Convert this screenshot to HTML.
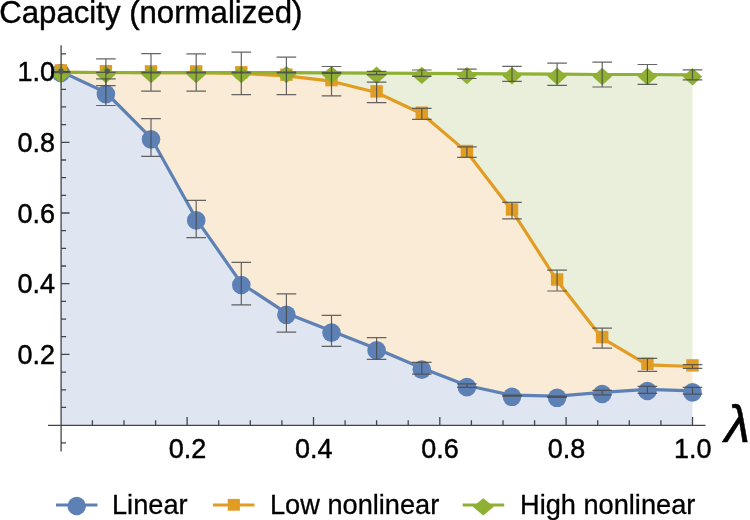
<!DOCTYPE html>
<html><head><meta charset="utf-8"><title>Capacity</title>
<style>
html,body{margin:0;padding:0;background:#fff;}
body{width:750px;height:520px;overflow:hidden;font-family:"Liberation Sans",sans-serif;}
svg{display:block}
text{font-family:"Liberation Sans",sans-serif;fill:#000}
</style></head><body>
<svg width="750" height="520" viewBox="0 0 750 520">
<rect width="750" height="520" fill="#fff"/>

<polygon fill="#E9EFDA" points="60.8,72.4 105.9,72.5 151.0,72.6 196.2,72.6 241.3,72.6 286.4,72.6 331.5,72.8 376.6,73.2 421.8,73.4 466.9,73.6 512.0,73.8 557.1,74.2 602.2,74.5 647.4,74.5 692.5,74.8 692.5,366.5 647.4,364.9 602.2,338.2 557.1,280.6 512.0,210.6 466.9,152.1 421.8,113.8 376.6,92.5 331.5,81.2 286.4,75.8 241.3,73.4 196.2,72.7 151.0,72.6 105.9,72.5 60.8,72.4"/>
<polygon fill="#FAEBD6" points="60.8,72.4 105.9,72.5 151.0,72.6 196.2,72.7 241.3,73.4 286.4,75.8 331.5,81.2 376.6,92.5 421.8,113.8 466.9,152.1 512.0,210.6 557.1,280.6 602.2,338.2 647.4,364.9 692.5,366.5 692.5,390.8 647.4,389.4 602.2,392.4 557.1,396.2 512.0,395.2 466.9,385.5 421.8,368.0 376.6,348.8 331.5,331.0 286.4,313.2 241.3,283.4 196.2,218.8 151.0,137.8 105.9,92.5 60.8,71.4"/>
<polygon fill="#DFE6F1" points="60.8,71.4 105.9,92.5 151.0,137.8 196.2,218.8 241.3,283.4 286.4,313.2 331.5,331.0 376.6,348.8 421.8,368.0 466.9,385.5 512.0,395.2 557.1,396.2 602.2,392.4 647.4,389.4 692.5,390.8 692.5,425.1 60.8,425.1"/>
<polyline fill="none" stroke="#5E81B5" stroke-width="3.2" stroke-linejoin="round" points="60.8,71.4 105.9,92.5 151.0,137.8 196.2,218.8 241.3,283.4 286.4,313.2 331.5,331.0 376.6,348.8 421.8,368.0 466.9,385.5 512.0,395.2 557.1,396.2 602.2,392.4 647.4,389.4 692.5,390.8"/>
<circle cx="60.8" cy="73.0" r="9.3" fill="#5E81B5"/>
<circle cx="105.9" cy="94.1" r="9.3" fill="#5E81B5"/>
<circle cx="151.0" cy="139.4" r="9.3" fill="#5E81B5"/>
<circle cx="196.2" cy="220.4" r="9.3" fill="#5E81B5"/>
<circle cx="241.3" cy="285.0" r="9.3" fill="#5E81B5"/>
<circle cx="286.4" cy="314.8" r="9.3" fill="#5E81B5"/>
<circle cx="331.5" cy="332.6" r="9.3" fill="#5E81B5"/>
<circle cx="376.6" cy="350.4" r="9.3" fill="#5E81B5"/>
<circle cx="421.8" cy="369.6" r="9.3" fill="#5E81B5"/>
<circle cx="466.9" cy="387.1" r="9.3" fill="#5E81B5"/>
<circle cx="512.0" cy="396.8" r="9.3" fill="#5E81B5"/>
<circle cx="557.1" cy="397.8" r="9.3" fill="#5E81B5"/>
<circle cx="602.2" cy="394.0" r="9.3" fill="#5E81B5"/>
<circle cx="647.4" cy="391.0" r="9.3" fill="#5E81B5"/>
<circle cx="692.5" cy="392.4" r="9.3" fill="#5E81B5"/>
<polyline fill="none" stroke="#E19C24" stroke-width="3.2" stroke-linejoin="round" points="60.8,72.4 105.9,72.5 151.0,72.6 196.2,72.7 241.3,73.4 286.4,75.8 331.5,81.2 376.6,92.5 421.8,113.8 466.9,152.1 512.0,210.6 557.1,280.6 602.2,338.2 647.4,364.9 692.5,366.5"/>
<rect x="54.6" y="64.3" width="12.4" height="12.4" fill="#E19C24"/>
<rect x="99.7" y="65.0" width="12.4" height="12.4" fill="#E19C24"/>
<rect x="144.8" y="65.2" width="12.4" height="12.4" fill="#E19C24"/>
<rect x="190.0" y="65.2" width="12.4" height="12.4" fill="#E19C24"/>
<rect x="235.1" y="66.1" width="12.4" height="12.4" fill="#E19C24"/>
<rect x="280.2" y="68.5" width="12.4" height="12.4" fill="#E19C24"/>
<rect x="325.3" y="73.9" width="12.4" height="12.4" fill="#E19C24"/>
<rect x="370.4" y="85.2" width="12.4" height="12.4" fill="#E19C24"/>
<rect x="415.6" y="106.5" width="12.4" height="12.4" fill="#E19C24"/>
<rect x="460.7" y="144.8" width="12.4" height="12.4" fill="#E19C24"/>
<rect x="505.8" y="203.3" width="12.4" height="12.4" fill="#E19C24"/>
<rect x="550.9" y="273.3" width="12.4" height="12.4" fill="#E19C24"/>
<rect x="596.0" y="330.9" width="12.4" height="12.4" fill="#E19C24"/>
<rect x="641.2" y="357.6" width="12.4" height="12.4" fill="#E19C24"/>
<rect x="686.3" y="359.2" width="12.4" height="12.4" fill="#E19C24"/>
<polyline fill="none" stroke="#8FB032" stroke-width="3.2" stroke-linejoin="round" points="60.8,72.4 105.9,72.5 151.0,72.6 196.2,72.6 241.3,72.6 286.4,72.6 331.5,72.8 376.6,73.2 421.8,73.4 466.9,73.6 512.0,73.8 557.1,74.2 602.2,74.5 647.4,74.5 692.5,74.8"/>
<path d="M60.8 65.7L70.5 74.4L60.8 83.1L51.1 74.4Z" fill="#8FB032"/>
<path d="M105.9 65.8L115.6 74.5L105.9 83.2L96.2 74.5Z" fill="#8FB032"/>
<path d="M151.0 65.9L160.7 74.6L151.0 83.3L141.3 74.6Z" fill="#8FB032"/>
<path d="M196.2 65.9L205.9 74.6L196.2 83.3L186.5 74.6Z" fill="#8FB032"/>
<path d="M241.3 65.9L251.0 74.6L241.3 83.3L231.6 74.6Z" fill="#8FB032"/>
<path d="M286.4 65.9L296.1 74.6L286.4 83.3L276.7 74.6Z" fill="#8FB032"/>
<path d="M331.5 66.1L341.2 74.8L331.5 83.5L321.8 74.8Z" fill="#8FB032"/>
<path d="M376.6 66.5L386.3 75.2L376.6 83.9L366.9 75.2Z" fill="#8FB032"/>
<path d="M421.8 66.7L431.5 75.4L421.8 84.1L412.1 75.4Z" fill="#8FB032"/>
<path d="M466.9 66.9L476.6 75.6L466.9 84.3L457.2 75.6Z" fill="#8FB032"/>
<path d="M512.0 67.1L521.7 75.8L512.0 84.5L502.3 75.8Z" fill="#8FB032"/>
<path d="M557.1 67.5L566.8 76.2L557.1 84.9L547.4 76.2Z" fill="#8FB032"/>
<path d="M602.2 67.8L611.9 76.5L602.2 85.2L592.5 76.5Z" fill="#8FB032"/>
<path d="M647.4 67.8L657.1 76.5L647.4 85.2L637.7 76.5Z" fill="#8FB032"/>
<path d="M692.5 68.1L702.2 76.8L692.5 85.5L682.8 76.8Z" fill="#8FB032"/>
<path d="M105.9 78.9V105.5M96.1 78.9H115.7M96.1 105.5H115.7" stroke="#4a4a4a" stroke-opacity="0.85" stroke-width="1.2" fill="none"/>
<path d="M151.0 118.7V156.4M141.2 118.7H160.8M141.2 156.4H160.8" stroke="#4a4a4a" stroke-opacity="0.85" stroke-width="1.2" fill="none"/>
<path d="M196.2 200.4V237.6M186.4 200.4H206.0M186.4 237.6H206.0" stroke="#4a4a4a" stroke-opacity="0.85" stroke-width="1.2" fill="none"/>
<path d="M241.3 262.4V304.8M231.5 262.4H251.1M231.5 304.8H251.1" stroke="#4a4a4a" stroke-opacity="0.85" stroke-width="1.2" fill="none"/>
<path d="M286.4 293.8V332.2M276.6 293.8H296.2M276.6 332.2H296.2" stroke="#4a4a4a" stroke-opacity="0.85" stroke-width="1.2" fill="none"/>
<path d="M331.5 315.4V346.4M321.7 315.4H341.3M321.7 346.4H341.3" stroke="#4a4a4a" stroke-opacity="0.85" stroke-width="1.2" fill="none"/>
<path d="M376.6 337.6V359.4M366.8 337.6H386.4M366.8 359.4H386.4" stroke="#4a4a4a" stroke-opacity="0.85" stroke-width="1.2" fill="none"/>
<path d="M421.8 362.4V374.2M412.0 362.4H431.6M412.0 374.2H431.6" stroke="#4a4a4a" stroke-opacity="0.85" stroke-width="1.2" fill="none"/>
<path d="M466.9 383.8V387.4M457.1 383.8H476.7M457.1 387.4H476.7" stroke="#4a4a4a" stroke-opacity="0.85" stroke-width="1.2" fill="none"/>
<path d="M512.0 395.2V396.2M502.2 395.2H521.8M502.2 396.2H521.8" stroke="#4a4a4a" stroke-opacity="0.85" stroke-width="1.2" fill="none"/>
<path d="M557.1 396.2V397.4M547.3 396.2H566.9M547.3 397.4H566.9" stroke="#4a4a4a" stroke-opacity="0.85" stroke-width="1.2" fill="none"/>
<path d="M602.2 390.4V394.8M592.4 390.4H612.0M592.4 394.8H612.0" stroke="#4a4a4a" stroke-opacity="0.85" stroke-width="1.2" fill="none"/>
<path d="M647.4 386.4V393.4M637.6 386.4H657.2M637.6 393.4H657.2" stroke="#4a4a4a" stroke-opacity="0.85" stroke-width="1.2" fill="none"/>
<path d="M692.5 387.4V394.2M682.7 387.4H702.3M682.7 394.2H702.3" stroke="#4a4a4a" stroke-opacity="0.85" stroke-width="1.2" fill="none"/>
<path d="M105.9 58.9V85.6M96.1 58.9H115.7M96.1 85.6H115.7" stroke="#4a4a4a" stroke-opacity="0.85" stroke-width="1.2" fill="none"/>
<path d="M151.0 53.7V91.2M141.2 53.7H160.8M141.2 91.2H160.8" stroke="#4a4a4a" stroke-opacity="0.85" stroke-width="1.2" fill="none"/>
<path d="M196.2 53.9V91.2M186.4 53.9H206.0M186.4 91.2H206.0" stroke="#4a4a4a" stroke-opacity="0.85" stroke-width="1.2" fill="none"/>
<path d="M241.3 52.2V94.6M231.5 52.2H251.1M231.5 94.6H251.1" stroke="#4a4a4a" stroke-opacity="0.85" stroke-width="1.2" fill="none"/>
<path d="M286.4 57.1V94.6M276.6 57.1H296.2M276.6 94.6H296.2" stroke="#4a4a4a" stroke-opacity="0.85" stroke-width="1.2" fill="none"/>
<path d="M331.5 66.5V95.8M321.7 66.5H341.3M321.7 95.8H341.3" stroke="#4a4a4a" stroke-opacity="0.85" stroke-width="1.2" fill="none"/>
<path d="M376.6 82.2V102.7M366.8 82.2H386.4M366.8 102.7H386.4" stroke="#4a4a4a" stroke-opacity="0.85" stroke-width="1.2" fill="none"/>
<path d="M421.8 108.3V119.4M412.0 108.3H431.6M412.0 119.4H431.6" stroke="#4a4a4a" stroke-opacity="0.85" stroke-width="1.2" fill="none"/>
<path d="M466.9 146.8V157.4M457.1 146.8H476.7M457.1 157.4H476.7" stroke="#4a4a4a" stroke-opacity="0.85" stroke-width="1.2" fill="none"/>
<path d="M512.0 202.4V218.8M502.2 202.4H521.8M502.2 218.8H521.8" stroke="#4a4a4a" stroke-opacity="0.85" stroke-width="1.2" fill="none"/>
<path d="M557.1 270.2V291.0M547.3 270.2H566.9M547.3 291.0H566.9" stroke="#4a4a4a" stroke-opacity="0.85" stroke-width="1.2" fill="none"/>
<path d="M602.2 328.2V348.2M592.4 328.2H612.0M592.4 348.2H612.0" stroke="#4a4a4a" stroke-opacity="0.85" stroke-width="1.2" fill="none"/>
<path d="M647.4 358.4V371.4M637.6 358.4H657.2M637.6 371.4H657.2" stroke="#4a4a4a" stroke-opacity="0.85" stroke-width="1.2" fill="none"/>
<path d="M692.5 364.6V368.4M682.7 364.6H702.3M682.7 368.4H702.3" stroke="#4a4a4a" stroke-opacity="0.85" stroke-width="1.2" fill="none"/>
<path d="M60.8 71.7V72.7M51.0 71.7H70.6M51.0 72.7H70.6" stroke="#4a4a4a" stroke-opacity="0.85" stroke-width="1.2" fill="none"/>
<path d="M105.9 72.4V72.4M96.1 72.4H115.7M96.1 72.4H115.7" stroke="#4a4a4a" stroke-opacity="0.85" stroke-width="1.2" fill="none"/>
<path d="M151.0 72.2V73.0M141.2 72.2H160.8M141.2 73.0H160.8" stroke="#4a4a4a" stroke-opacity="0.85" stroke-width="1.2" fill="none"/>
<path d="M196.2 72.2V73.0M186.4 72.2H206.0M186.4 73.0H206.0" stroke="#4a4a4a" stroke-opacity="0.85" stroke-width="1.2" fill="none"/>
<path d="M241.3 72.2V73.0M231.5 72.2H251.1M231.5 73.0H251.1" stroke="#4a4a4a" stroke-opacity="0.85" stroke-width="1.2" fill="none"/>
<path d="M286.4 72.2V73.0M276.6 72.2H296.2M276.6 73.0H296.2" stroke="#4a4a4a" stroke-opacity="0.85" stroke-width="1.2" fill="none"/>
<path d="M331.5 72.3V73.3M321.7 72.3H341.3M321.7 73.3H341.3" stroke="#4a4a4a" stroke-opacity="0.85" stroke-width="1.2" fill="none"/>
<path d="M376.6 71.4V74.6M366.8 71.4H386.4M366.8 74.6H386.4" stroke="#4a4a4a" stroke-opacity="0.85" stroke-width="1.2" fill="none"/>
<path d="M421.8 70.0V76.4M412.0 70.0H431.6M412.0 76.4H431.6" stroke="#4a4a4a" stroke-opacity="0.85" stroke-width="1.2" fill="none"/>
<path d="M466.9 69.1V78.5M457.1 69.1H476.7M457.1 78.5H476.7" stroke="#4a4a4a" stroke-opacity="0.85" stroke-width="1.2" fill="none"/>
<path d="M512.0 66.3V81.4M502.2 66.3H521.8M502.2 81.4H521.8" stroke="#4a4a4a" stroke-opacity="0.85" stroke-width="1.2" fill="none"/>
<path d="M557.1 63.1V85.4M547.3 63.1H566.9M547.3 85.4H566.9" stroke="#4a4a4a" stroke-opacity="0.85" stroke-width="1.2" fill="none"/>
<path d="M602.2 62.2V87.0M592.4 62.2H612.0M592.4 87.0H612.0" stroke="#4a4a4a" stroke-opacity="0.85" stroke-width="1.2" fill="none"/>
<path d="M647.4 64.5V84.4M637.6 64.5H657.2M637.6 84.4H657.2" stroke="#4a4a4a" stroke-opacity="0.85" stroke-width="1.2" fill="none"/>
<path d="M692.5 69.9V79.8M682.7 69.9H702.3M682.7 79.8H702.3" stroke="#4a4a4a" stroke-opacity="0.85" stroke-width="1.2" fill="none"/>
<path d="M48.0 425.3H705.5 M61.099999999999994 45.3V451.5M61.099999999999994 442.8h5M92.4 425.3v-5M124.0 425.3v-5M155.6 425.3v-5M187.1 425.3v-8.4M218.7 425.3v-5M250.3 425.3v-5M281.9 425.3v-5M313.5 425.3v-8.4M345.1 425.3v-5M376.6 425.3v-5M408.2 425.3v-5M439.8 425.3v-8.4M471.4 425.3v-5M503.0 425.3v-5M534.6 425.3v-5M566.1 425.3v-8.4M597.7 425.3v-5M629.3 425.3v-5M660.9 425.3v-5M692.5 425.3v-8.4M61.099999999999994 407.4h5M61.099999999999994 389.8h5M61.099999999999994 372.1h5M61.099999999999994 354.4h8.4M61.099999999999994 336.7h5M61.099999999999994 319.1h5M61.099999999999994 301.4h5M61.099999999999994 283.7h8.4M61.099999999999994 266.0h5M61.099999999999994 248.4h5M61.099999999999994 230.7h5M61.099999999999994 213.0h8.4M61.099999999999994 195.3h5M61.099999999999994 177.7h5M61.099999999999994 160.0h5M61.099999999999994 142.3h8.4M61.099999999999994 124.6h5M61.099999999999994 106.9h5M61.099999999999994 89.3h5M61.099999999999994 71.6h8.4M61.099999999999994 53.9h5" stroke="#454545" stroke-width="1.3" fill="none"/>
<circle cx="61.0" cy="71.3" r="2.7" fill="#555555"/>
<circle cx="107.2" cy="71.3" r="2.7" fill="#555555"/>
<text transform="translate(187.4,457.6) scale(1,1.025)" font-size="27.0" text-anchor="middle" stroke="#000" stroke-width="0.45">0.2</text>
<text transform="translate(55.0,364.1) scale(1,1.025)" font-size="27.0" text-anchor="end" stroke="#000" stroke-width="0.45">0.2</text>
<text transform="translate(313.8,457.6) scale(1,1.025)" font-size="27.0" text-anchor="middle" stroke="#000" stroke-width="0.45">0.4</text>
<text transform="translate(55.0,293.4) scale(1,1.025)" font-size="27.0" text-anchor="end" stroke="#000" stroke-width="0.45">0.4</text>
<text transform="translate(440.1,457.6) scale(1,1.025)" font-size="27.0" text-anchor="middle" stroke="#000" stroke-width="0.45">0.6</text>
<text transform="translate(55.0,222.7) scale(1,1.025)" font-size="27.0" text-anchor="end" stroke="#000" stroke-width="0.45">0.6</text>
<text transform="translate(566.4,457.6) scale(1,1.025)" font-size="27.0" text-anchor="middle" stroke="#000" stroke-width="0.45">0.8</text>
<text transform="translate(55.0,152.0) scale(1,1.025)" font-size="27.0" text-anchor="end" stroke="#000" stroke-width="0.45">0.8</text>
<text transform="translate(692.8,457.6) scale(1,1.025)" font-size="27.0" text-anchor="middle" stroke="#000" stroke-width="0.45">1.0</text>
<text transform="translate(55.0,81.3) scale(1,1.025)" font-size="27.0" text-anchor="end" stroke="#000" stroke-width="0.45">1.0</text>
<text transform="translate(-0.8,22.6) scale(1,1)" font-size="30.6" text-anchor="start" stroke="#000" stroke-width="0.4" textLength="303.2" lengthAdjust="spacingAndGlyphs">Capacity (normalized)</text>
<text transform="translate(724.5,441.6) scale(1,1)" font-size="52" text-anchor="start" stroke="#000" stroke-width="0.5" font-style="italic">λ</text>
<path d="M56 505H97.5" stroke="#5E81B5" stroke-width="2.8"/>
<circle cx="76.7" cy="506" r="9.2" fill="#5E81B5"/>
<text transform="translate(112.0,514.1) scale(1,1)" font-size="27.2" text-anchor="start" stroke="#000" stroke-width="0.3">Linear</text>
<path d="M213 505H254.5" stroke="#E19C24" stroke-width="2.8"/>
<rect x="227.7" y="498.9" width="12.2" height="11.8" fill="#E19C24"/>
<text transform="translate(270.0,514.1) scale(1,1)" font-size="27.2" text-anchor="start" stroke="#000" stroke-width="0.3">Low nonlinear</text>
<path d="M462.7 505H504.2" stroke="#8FB032" stroke-width="2.8"/>
<path d="M483.3 498.2L493.8 506.8L483.3 515.4L472.8 506.8Z" fill="#8FB032"/>
<text transform="translate(520.0,514.1) scale(1,1)" font-size="27.2" text-anchor="start" stroke="#000" stroke-width="0.3">High nonlinear</text>
</svg></body></html>
